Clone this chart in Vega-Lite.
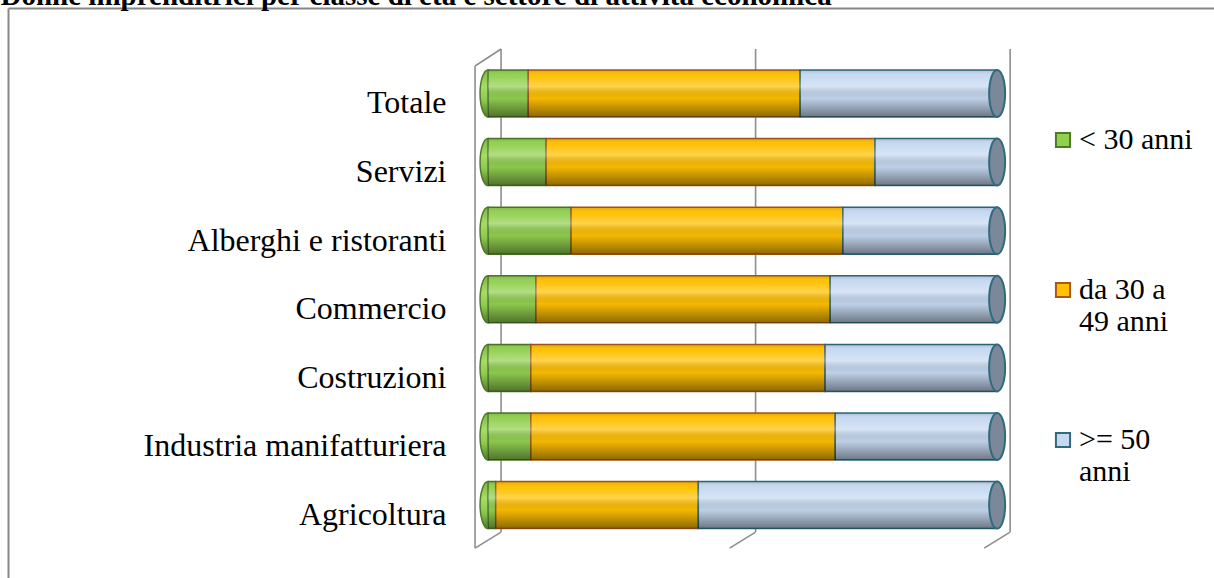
{
  "$schema": "https://vega.github.io/schema/vega-lite/v6.json",
  "width": 1206,
  "height": 570,
  "autosize": {"type": "none"},
  "padding": {"left": 8, "top": 8, "right": 0, "bottom": 0},
  "background": "white",
  "config": {"view": {"stroke": null}, "font": "Times New Roman, Liberation Serif, serif"},
  "datasets": {
    "quote": [
      {"settore": "Totale", "classe": "< 30 anni", "ord": 1, "value": 7.9},
      {"settore": "Totale", "classe": "da 30 a 49 anni", "ord": 2, "value": 53.4},
      {"settore": "Totale", "classe": ">= 50 anni", "ord": 3, "value": 38.7},
      {"settore": "Servizi", "classe": "< 30 anni", "ord": 1, "value": 11.4},
      {"settore": "Servizi", "classe": "da 30 a 49 anni", "ord": 2, "value": 64.6},
      {"settore": "Servizi", "classe": ">= 50 anni", "ord": 3, "value": 24.0},
      {"settore": "Alberghi e ristoranti", "classe": "< 30 anni", "ord": 1, "value": 16.3},
      {"settore": "Alberghi e ristoranti", "classe": "da 30 a 49 anni", "ord": 2, "value": 53.4},
      {"settore": "Alberghi e ristoranti", "classe": ">= 50 anni", "ord": 3, "value": 30.3},
      {"settore": "Commercio", "classe": "< 30 anni", "ord": 1, "value": 9.4},
      {"settore": "Commercio", "classe": "da 30 a 49 anni", "ord": 2, "value": 57.8},
      {"settore": "Commercio", "classe": ">= 50 anni", "ord": 3, "value": 32.8},
      {"settore": "Costruzioni", "classe": "< 30 anni", "ord": 1, "value": 8.4},
      {"settore": "Costruzioni", "classe": "da 30 a 49 anni", "ord": 2, "value": 57.8},
      {"settore": "Costruzioni", "classe": ">= 50 anni", "ord": 3, "value": 33.8},
      {"settore": "Industria manifatturiera", "classe": "< 30 anni", "ord": 1, "value": 8.4},
      {"settore": "Industria manifatturiera", "classe": "da 30 a 49 anni", "ord": 2, "value": 59.8},
      {"settore": "Industria manifatturiera", "classe": ">= 50 anni", "ord": 3, "value": 31.8},
      {"settore": "Agricoltura", "classe": "< 30 anni", "ord": 1, "value": 1.5},
      {"settore": "Agricoltura", "classe": "da 30 a 49 anni", "ord": 2, "value": 39.8},
      {"settore": "Agricoltura", "classe": ">= 50 anni", "ord": 3, "value": 58.7}
    ],
    "griglia": [{"p": 0}, {"p": 50}, {"p": 100}]
  },
  "layer": [
    {
      "data": {"name": "griglia"},
      "mark": {"type": "rule", "color": "#8E8E8E", "strokeWidth": 1.6, "xOffset": 13, "x2Offset": 13, "yOffset": -44.5, "y2Offset": 27},
      "encoding": {
        "x": {"field": "p", "type": "quantitative", "scale": {"domain": [-94.3, 142.6], "nice": false, "zero": false},
          "axis": {"orient": "top", "labels": false, "ticks": false, "grid": false, "domain": true, "domainColor": "#878787", "domainWidth": 2, "minExtent": 0, "maxExtent": 0,
            "title": "Donne imprenditrici per classe di età e settore di attività economica",
            "titleX": -8, "titleY": -4, "titleAlign": "left", "titleAnchor": "start", "titleBaseline": "alphabetic", "titleAngle": 0,
            "titleFont": "Times New Roman, Liberation Serif, serif", "titleFontSize": 29, "titleFontWeight": "bold", "titleColor": "#000000", "titleLimit": 2000, "titlePadding": 0}},
        "y": {"datum": "Totale", "type": "nominal", "scale": {"domain": ["Totale", "Servizi", "Alberghi e ristoranti", "Commercio", "Costruzioni", "Industria manifatturiera", "Agricoltura"], "paddingInner": 0, "paddingOuter": 0.654, "align": 0.57}},
        "y2": {"datum": "Agricoltura"}
      }
    },
    {
      "data": {"name": "griglia"},
      "mark": {"type": "rule", "color": "#8E8E8E", "strokeWidth": 1.6, "xOffset": -13, "x2Offset": 13, "yOffset": 43, "y2Offset": 27},
      "encoding": {
        "x": {"field": "p", "type": "quantitative"},
        "x2": {"field": "p"},
        "y": {"datum": "Agricoltura", "type": "nominal"},
        "y2": {"datum": "Agricoltura"}
      }
    },
    {
      "data": {"name": "griglia"},
      "transform": [{"filter": "datum.p == 0"}],
      "mark": {"type": "rule", "color": "#8E8E8E", "strokeWidth": 1.6, "xOffset": -13, "x2Offset": -13, "yOffset": -27.5, "y2Offset": 43},
      "encoding": {
        "x": {"field": "p", "type": "quantitative"},
        "y": {"datum": "Totale", "type": "nominal"},
        "y2": {"datum": "Agricoltura"}
      }
    },
    {
      "data": {"name": "griglia"},
      "transform": [{"filter": "datum.p == 0"}],
      "mark": {"type": "rule", "color": "#8E8E8E", "strokeWidth": 1.6, "xOffset": -13, "x2Offset": 13, "yOffset": -27.5, "y2Offset": -44.5},
      "encoding": {
        "x": {"field": "p", "type": "quantitative"},
        "x2": {"field": "p"},
        "y": {"datum": "Totale", "type": "nominal"},
        "y2": {"datum": "Totale"}
      }
    },
    {
      "data": {"name": "quote"},
      "transform": [{"filter": "datum.ord == 1"}],
      "mark": {
        "type": "point",
        "filled": true,
        "shape": "M0,-1A0.34,1,0,1,1,0,1A0.34,1,0,1,1,0,-1Z",
        "size": 2209,
        "opacity": 1,
        "stroke": "#4F7A28",
        "strokeWidth": 1.5,
        "fill": {"gradient": "linear", "x1": 0, "y1": 0, "x2": 0, "y2": 1, "stops": [{"offset": 0, "color": "#7DB444"}, {"offset": 0.35, "color": "#A6DD66"}, {"offset": 0.65, "color": "#8CC850"}, {"offset": 1, "color": "#4E7A28"}]}
      },
      "encoding": {
        "x": {"datum": 0, "type": "quantitative"},
        "y": {"field": "settore", "type": "nominal"}
      }
    },
    {
      "data": {"name": "quote"},
      "mark": {"type": "bar", "height": {"band": 0.685}, "strokeWidth": 1.5},
      "encoding": {
        "x": {"field": "value", "type": "quantitative", "stack": "zero"},
        "y": {"field": "settore", "type": "nominal", "axis": {"orient": "left", "title": null, "ticks": false, "grid": false, "domain": true, "domainColor": "#878787", "domainWidth": 2, "labelFont": "Times New Roman, Liberation Serif, serif", "labelFontSize": 32, "labelColor": "#000000", "labelPadding": -438, "labelOffset": 10, "labelLimit": 600, "labelBound": false, "labelOverlap": false}},
        "fill": {"field": "classe", "type": "nominal", "scale": {"domain": ["< 30 anni", "da 30 a 49 anni", ">= 50 anni"], "range": ["#92D050", "#FFC000", "#C6D9F1"]},
          "legend": {"orient": "none", "legendX": 1040, "legendY": 117, "title": null, "padding": 0, "labelFont": "Times New Roman, Liberation Serif, serif", "labelFontSize": 30, "labelColor": "#000000", "labelLimit": 300, "labelBaseline": "middle", "labelOffset": 1, "symbolType": "square", "symbolSize": 200, "symbolStrokeWidth": 2, "rowPadding": 88,
            "labelExpr": "datum.label == 'da 30 a 49 anni' ? ['da 30 a', '49 anni'] : datum.label == '>= 50 anni' ? ['>= 50', 'anni'] : [datum.label, '']"}},
        "stroke": {"field": "classe", "type": "nominal", "scale": {"domain": ["< 30 anni", "da 30 a 49 anni", ">= 50 anni"], "range": ["#4F7A28", "#A8581A", "#2F6B7C"]},
          "legend": {"orient": "none", "legendX": 1040, "legendY": 117, "title": null, "padding": 0, "labelFont": "Times New Roman, Liberation Serif, serif", "labelFontSize": 30, "labelColor": "#000000", "labelLimit": 300, "labelBaseline": "middle", "labelOffset": 1, "symbolType": "square", "symbolSize": 200, "symbolStrokeWidth": 2, "rowPadding": 88,
            "labelExpr": "datum.label == 'da 30 a 49 anni' ? ['da 30 a', '49 anni'] : datum.label == '>= 50 anni' ? ['>= 50', 'anni'] : [datum.label, '']"}},
        "order": {"field": "ord", "type": "quantitative"}
      }
    },
    {
      "data": {"name": "quote"},
      "mark": {
        "type": "bar",
        "height": {"band": 0.685},
        "fill": {"gradient": "linear", "x1": 0, "y1": 0, "x2": 0, "y2": 1, "stops": [{"offset": 0, "color": "rgba(0,0,0,0.14)"}, {"offset": 0.12, "color": "rgba(255,255,255,0.02)"}, {"offset": 0.35, "color": "rgba(255,255,255,0.3)"}, {"offset": 0.6, "color": "rgba(0,0,0,0.04)"}, {"offset": 1, "color": "rgba(0,0,0,0.45)"}]}
      },
      "encoding": {
        "x": {"aggregate": "sum", "field": "value", "type": "quantitative"},
        "y": {"field": "settore", "type": "nominal"}
      }
    },
    {
      "data": {"name": "quote"},
      "mark": {
        "type": "point",
        "filled": true,
        "shape": "M0,-1A0.34,1,0,1,1,0,1A0.34,1,0,1,1,0,-1Z",
        "size": 2209,
        "opacity": 1,
        "fill": "#7A8899",
        "stroke": "#2F6B7C",
        "strokeWidth": 2
      },
      "encoding": {
        "x": {"aggregate": "sum", "field": "value", "type": "quantitative"},
        "y": {"field": "settore", "type": "nominal"}
      }
    }
  ]
}
